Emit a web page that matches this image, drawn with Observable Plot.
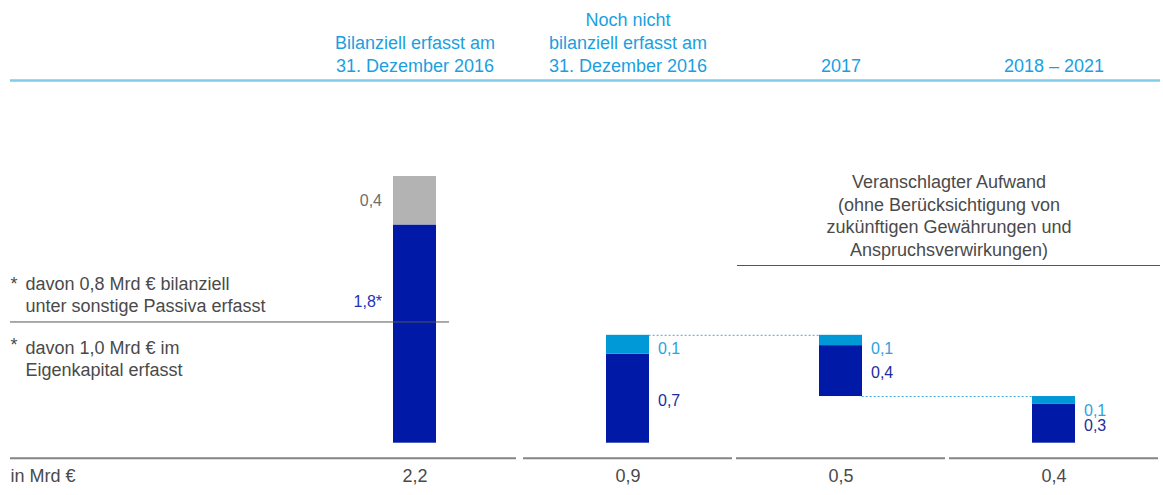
<!DOCTYPE html>
<html><head><meta charset="utf-8">
<script src="https://cdn.jsdelivr.net/npm/d3@7"></script>
<script src="https://cdn.jsdelivr.net/npm/@observablehq/plot@0.6"></script>
<style>body{margin:0;background:#fff;} svg{display:block}</style>
</head><body><div id="chart"></div>
<script>
// ---- data ----
const categories = ["erfasst2016", "nichtErfasst2016", "j2017", "j2018_2021"];
const headerLabels = ["Bilanziell erfasst am\n31. Dezember 2016", "Noch nicht\nbilanziell erfasst am\n31. Dezember 2016", "2017", "2018 – 2021"];
const darkValues = [1.8, 0.735, 0.42, 0.32];
const upperValues = [0.4, 0.155, 0.085, 0.065];
const upperKinds = ["grey", "light", "light", "light"];
const darkLabels = ["1,8*", "0,7", "0,4", "0,3"];
const upperLabels = ["0,4", "0,1", "0,1", "0,1"];
const totalLabels = ["2,2", "0,9", "0,5", "0,4"];
const unitLabel = "in Mrd €";
const splitValue = 1.0;
const noteAbove = ["davon 0,8 Mrd € bilanziell", "unter sonstige Passiva erfasst"];
const noteBelow = ["davon 1,0 Mrd € im", "Eigenkapital erfasst"];
const annotationLines = ["Veranschlagter Aufwand", "(ohne Berücksichtigung von", "zukünftigen Gewährungen und", "Anspruchsverwirkungen)"];

// ---- derived tables ----
const bases = categories.map((c, i) => i === 2 ? darkValues[3] + upperValues[3] : 0);
const columns = categories.map((cat, i) => ({
  cat, header: headerLabels[i], base: bases[i],
  darkTop: bases[i] + darkValues[i], top: bases[i] + darkValues[i] + upperValues[i],
  darkLabel: darkLabels[i], upperLabel: upperLabels[i], total: totalLabels[i], upperKind: upperKinds[i]
}));
const segments = columns.flatMap(d => [
  {cat: d.cat, kind: "dark", y1: d.base, y2: d.darkTop},
  {cat: d.cat, kind: d.upperKind, y1: d.darkTop, y2: d.top}
]);
const connectors = [
  {from: categories[1], to: categories[2], y: columns[1].top},
  {from: categories[2], to: categories[3], y: columns[2].base}
];
const yMax = columns[0].top;

const xRange = [307.5, 1160.5];
const bw = (xRange[1] - xRange[0]) / 4 * 0.2;
const textGrey = "#4a4a4a";
const font = "'Liberation Sans', Arial, Helvetica, sans-serif";

const chart = Plot.plot({
  width: 1163, height: 495,
  marginLeft: 10, marginRight: 3, marginTop: 0, marginBottom: 0,
  style: {fontFamily: font, background: "#fff"},
  x: {type: "band", domain: categories, range: xRange, paddingInner: 0.8, paddingOuter: 0.4, axis: null},
  y: {domain: [0, yMax], range: [442.7, 176], axis: null},
  color: {domain: ["dark", "light", "grey"], range: ["#0019a6", "#0099d8", "#b3b3b3"]},
  marks: [
    // header rule + headers
    Plot.ruleY([yMax], {stroke: "#7fcdea", strokeWidth: 2.5, dy: -96}),
    Plot.text(columns, {x: "cat", text: "header", frameAnchor: "top", lineAnchor: "bottom", dy: 71.5, fill: "#1a9fe0", fontSize: 18, lineHeight: 1.28}),
    // bars
    Plot.barY(segments, {x: "cat", y1: "y1", y2: "y2", fill: "kind"}),
    // waterfall connectors
    Plot.ruleY(connectors, {y: "y", x1: "from", x2: "to", insetLeft: bw, insetRight: bw, stroke: "#3fa9df", strokeWidth: 1, strokeDasharray: "2,2"}),
    // bottom rules
    Plot.ruleY(columns.slice(0, 1), {y: 0, x1: null, x2: "cat", insetRight: -80, dy: 15, stroke: "#858585", strokeWidth: 2}),
    Plot.ruleY(columns.slice(1), {y: 0, x1: "cat", x2: "cat", insetLeft: -83, insetRight: -83, dy: 15, stroke: "#858585", strokeWidth: 2}),
    // split rule at 1,0
    Plot.ruleY([splitValue], {x1: null, x2: () => categories[0], insetRight: -13, stroke: "#555", strokeWidth: 1}),
    // annotation
    Plot.ruleY([yMax], {x1: () => categories[2], x2: null, insetLeft: -82, dy: 89, stroke: "#555", strokeWidth: 1}),
    Plot.text([annotationLines.join("\n")], {x: () => categories[2], y: () => yMax, text: d => d, dx: 108, dy: 79, lineAnchor: "bottom", lineHeight: 1.245, fontSize: 18, fill: textGrey}),
    // value labels
    Plot.text(columns.slice(0, 1), {x: "cat", y: d => (d.darkTop + d.top) / 2, text: "upperLabel", textAnchor: "end", dx: -33, fill: "#6e6e6e", fontSize: 16}),
    Plot.text(columns.slice(0, 1), {x: "cat", y: () => splitValue, text: "darkLabel", textAnchor: "end", dx: -33, dy: -20, fill: "#2233b8", fontSize: 16}),
    Plot.text(columns.slice(1), {x: "cat", y: "top", text: "upperLabel", textAnchor: "start", dx: 30, dy: 14, fill: "#2aa3df", fontSize: 16}),
    Plot.text(columns.slice(1), {x: "cat", y: d => (d.base + d.darkTop) / 2, text: "darkLabel", textAnchor: "start", dx: 30, dy: 2, fill: "#1c2c9e", fontSize: 16}),
    // footnotes
    Plot.text([noteAbove.join("\n")], {y: () => splitValue, text: d => d, frameAnchor: "left", textAnchor: "start", dx: 15, dy: -10, lineAnchor: "bottom", lineHeight: 1.22, fill: textGrey, fontSize: 18}),
    Plot.text(["*"], {y: () => splitValue, text: d => d, frameAnchor: "left", textAnchor: "start", dy: -32, lineAnchor: "bottom", fill: textGrey, fontSize: 18}),
    Plot.text([noteBelow.join("\n")], {y: () => splitValue, text: d => d, frameAnchor: "left", textAnchor: "start", dx: 15, dy: 16.5, lineAnchor: "top", lineHeight: 1.22, fill: textGrey, fontSize: 18}),
    Plot.text(["*"], {y: () => splitValue, text: d => d, frameAnchor: "left", textAnchor: "start", dy: 16.5, lineAnchor: "top", fill: textGrey, fontSize: 18}),
    // bottom row
    Plot.text(columns, {x: "cat", text: "total", frameAnchor: "bottom", dy: -14, fill: textGrey, fontSize: 18}),
    Plot.text([unitLabel], {text: d => d, frameAnchor: "bottom-left", textAnchor: "start", dy: -14, fill: textGrey, fontSize: 18})
  ]
});
document.getElementById("chart").appendChild(chart);
</script>
</body></html>
